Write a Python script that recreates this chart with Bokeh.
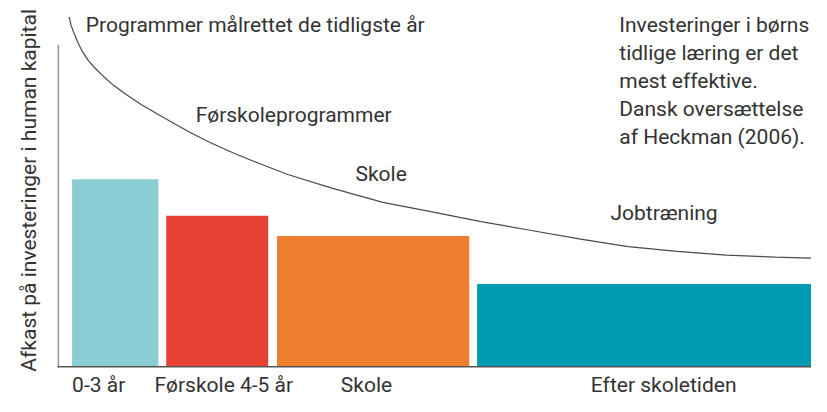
from math import pi
from bokeh.plotting import figure
from bokeh.models import Range1d, ColumnDataSource
from bokeh.core.properties import value
from bokeh.embed import file_html
from bokeh.resources import INLINE

# ---- data (arbitrary "return" units, axis at 0) ----
stages = ["0-3 år", "Førskole 4-5 år", "Skole", "Efter skoletiden"]
bar_left = [1.4, 11.0, 22.3, 42.7]
bar_right = [10.2, 21.4, 41.9, 76.8]
bar_value = [19.5, 15.7, 13.6, 8.6]
bar_colors = ["#8acdd5", "#e84135", "#ee7f31", "#009bb1"]

curve_x = [1.1, 1.3, 1.6, 2.0, 2.5, 3.1, 3.8, 4.6, 5.6, 6.8, 8.4, 10.1,
           11.8, 13.4, 15.1, 16.8, 18.4, 20.1, 23.4, 27.8, 33.1, 38.1,
           43.1, 48.1, 53.1, 58.1, 63.1, 68.1, 73.1, 76.8]
curve_y = [36.4, 35.5, 34.7, 33.7, 32.7, 31.8, 31.0, 30.2, 29.3, 28.4, 27.3, 26.3,
           25.3, 24.4, 23.5, 22.7, 22.0, 21.3, 20.0, 18.6, 17.1, 16.1,
           15.1, 14.2, 13.3, 12.5, 12.0, 11.6, 11.4, 11.3]

curve_labels = ["Programmer målrettet de tidligste år", "Førskoleprogrammer",
                "Skole", "Jobtræning"]
curve_label_x = [2.8, 14.0, 30.3, 56.3]
curve_label_y = [35.5, 26.2, 20.0, 16.0]

note_lines = ["Investeringer i børns", "tidlige læring er det",
              "mest effektive.", "Dansk oversættelse", "af Heckman (2006)."]
note_x = 57.2
note_y = [35.5, 32.6, 29.7, 26.8, 23.9]

stage_label_x = [1.4, 9.8, 28.8, 54.3]
stage_label_y = -1.95

y_title = "Afkast på investeringer i human kapital"

FONT = value("Roboto")
TXT = "#333333"

p = figure(width=811, height=396, output_backend="svg", toolbar_location=None,
           x_axis_type=None, y_axis_type=None,
           x_range=Range1d(-5.9, 76.8), y_range=Range1d(-3.1, 38.1),
           min_border=0, min_border_left=0, min_border_right=0,
           min_border_top=0, min_border_bottom=0)
p.outline_line_color = None
p.grid.visible = False
p.background_fill_color = "white"
p.border_fill_color = "white"

# bars
p.quad(source=ColumnDataSource(dict(left=bar_left, right=bar_right,
                                    top=bar_value, bottom=[0] * 4, color=bar_colors)),
       left="left", right="right", top="top", bottom="bottom",
       fill_color="color", line_color=None)

# axis lines
p.line(x=[0, 0], y=[0, 33.5], line_color="#9a9a9a", line_width=1.6)
p.line(x=[-0.1, bar_right[-1]], y=[0, 0], line_color="#555555", line_width=1.5)

# curve
p.line(x=curve_x, y=curve_y, line_color="#4a4a4a", line_width=1.2)

# curve labels
p.text(x=curve_label_x, y=curve_label_y, text=curve_labels,
       text_font=FONT, text_font_size="21px", text_color=TXT,
       text_align="left", text_baseline="alphabetic")

# note block
p.text(x=[note_x] * len(note_lines), y=note_y, text=note_lines,
       text_font=FONT, text_font_size="21px", text_color=TXT,
       text_align="left", text_baseline="alphabetic")

# stage labels (x categories)
p.text(x=stage_label_x, y=[stage_label_y] * 4, text=stages,
       text_font=FONT, text_font_size="21px", text_color=TXT,
       text_align="left", text_baseline="alphabetic")

# y-axis title
p.text(x=[-3.0], y=[18.35], text=[y_title], angle=pi / 2,
       text_font=FONT, text_font_size="21px", text_color=TXT,
       text_align="center", text_baseline="alphabetic")

open("out.html", "w").write(file_html(p, INLINE))
